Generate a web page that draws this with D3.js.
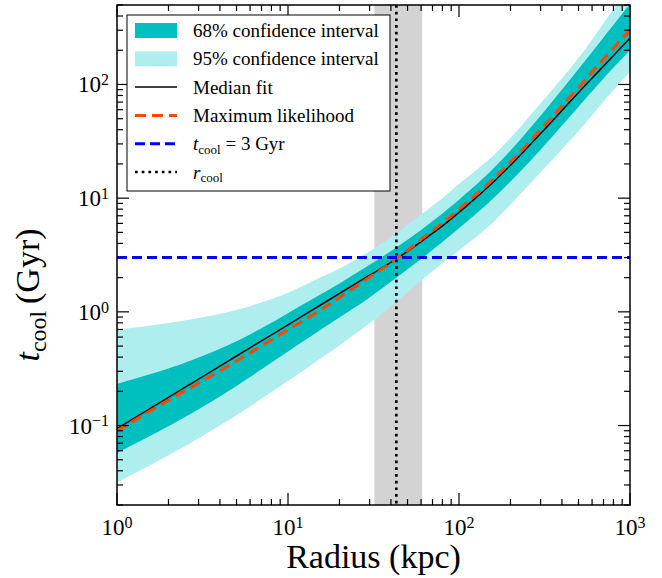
<!DOCTYPE html>
<html>
<head>
<meta charset="utf-8">
<script src="https://cdn.jsdelivr.net/npm/d3@7"></script>
<style>
  body { margin: 0; background: #fff; }
  text { font-family: "Liberation Serif", "DejaVu Serif", serif; fill: #000; }
</style>
</head>
<body>
<script>
// radius grid (kpc) and cooling time curves (Gyr)
const radius  = [1, 2, 3, 5, 7, 10, 15, 20, 30, 43, 60, 80, 100, 150, 200, 300, 500, 700, 1000];
const median  = [0.094, 0.177, 0.256, 0.409, 0.556, 0.769, 1.114, 1.45, 2.10, 2.92, 4.15, 5.7, 7.5, 12.8, 19.5, 37, 85, 145, 256];
const maxLike = [0.090, 0.167, 0.236, 0.370, 0.503, 0.695, 1.007, 1.337, 2.02, 2.92, 4.32, 6.06, 7.97, 13.6, 20.7, 40.1, 94, 167, 301];
const lo68    = [0.0574, 0.0986, 0.139, 0.223, 0.312, 0.449, 0.673, 0.892, 1.34, 1.99, 2.91, 4.11, 5.43, 9.2, 14.0, 26.7, 63.7, 113, 200];
const hi68    = [0.232, 0.317, 0.396, 0.552, 0.718, 0.973, 1.384, 1.78, 2.59, 3.68, 5.26, 7.33, 9.68, 16.7, 26.2, 53.2, 137, 259, 510];
const lo95    = [0.0315, 0.0548, 0.0774, 0.123, 0.172, 0.246, 0.376, 0.508, 0.794, 1.22, 1.89, 2.68, 3.47, 5.68, 8.81, 16.9, 39, 71, 129];
const hi95    = [0.693, 0.796, 0.881, 1.04, 1.21, 1.47, 1.96, 2.41, 3.40, 4.92, 7.18, 10.0, 13.3, 22.0, 33.9, 68.2, 171, 346, 750];

const rCool = 43, rCoolLo = 32, rCoolHi = 61;   // kpc
const tLimit = 3;                                // Gyr
const xMajor = [0, 1, 2, 3];                     // exponents of 10
const yMajor = [-1, 0, 1, 2];

const width = 662, height = 578;
const margin = {top: 5, right: 32, bottom: 73, left: 117};

const x = d3.scaleLog().domain([1, 1000]).range([margin.left, width - margin.right]);
const y = d3.scaleLog().domain([0.02, 500]).range([height - margin.bottom, margin.top]);

const svg = d3.select('body').append('svg')
  .attr('width', width)
  .attr('height', height);

svg.append('clipPath').attr('id', 'clip')
  .append('rect')
  .attr('x', margin.left).attr('y', margin.top)
  .attr('width', x.range()[1] - margin.left)
  .attr('height', y.range()[0] - margin.top);

const plot = svg.append('g').attr('clip-path', 'url(#clip)');

const pts = radius.map((r, i) => ({r, med: median[i], ml: maxLike[i],
  lo68: lo68[i], hi68: hi68[i], lo95: lo95[i], hi95: hi95[i]}));

// r_cool uncertainty span
plot.append('rect')
  .attr('x', x(rCoolLo)).attr('y', margin.top)
  .attr('width', x(rCoolHi) - x(rCoolLo))
  .attr('height', y.range()[0] - margin.top)
  .attr('fill', '#d3d3d3');

const band = (lo, hi) => d3.area()
  .x(d => x(d.r)).y0(d => y(d[lo])).y1(d => y(d[hi]))
  .curve(d3.curveCatmullRom);

plot.append('path').datum(pts).attr('d', band('lo95', 'hi95')).attr('fill', '#afeeee');
plot.append('path').datum(pts).attr('d', band('lo68', 'hi68')).attr('fill', '#00bfbf');

const line = key => d3.line().x(d => x(d.r)).y(d => y(d[key])).curve(d3.curveCatmullRom);

plot.append('path').datum(pts).attr('d', line('med'))
  .attr('fill', 'none').attr('stroke', '#000').attr('stroke-width', 1.5);
plot.append('path').datum(pts).attr('d', line('ml'))
  .attr('fill', 'none').attr('stroke', '#ff4500').attr('stroke-width', 3)
  .attr('stroke-dasharray', '11,6');

plot.append('line')
  .attr('x1', margin.left).attr('x2', x.range()[1])
  .attr('y1', y(tLimit)).attr('y2', y(tLimit))
  .attr('stroke', '#0000ff').attr('stroke-width', 3).attr('stroke-dasharray', '10,5');

plot.append('line')
  .attr('x1', x(rCool)).attr('x2', x(rCool))
  .attr('y1', margin.top).attr('y2', y.range()[0])
  .attr('stroke', '#000').attr('stroke-width', 2.7).attr('stroke-dasharray', '2.7,4');

// frame and ticks (inward, all four sides)
const x0 = margin.left, x1 = x.range()[1], y0 = y.range()[0], y1 = margin.top;
const ticks = svg.append('g').attr('stroke', '#000').attr('stroke-width', 1.2);

const xMinor = [], yMinor = [];
xMajor.slice(0, -1).forEach(e => { for (let k = 2; k < 10; k++) xMinor.push(k * Math.pow(10, e)); });
for (let e = -2; e <= 2; e++) for (let k = 1; k < 10; k++) {
  const v = k * Math.pow(10, e);
  if (k > 1 && v >= 0.02 && v <= 500) yMinor.push(v);
}

xMajor.forEach(e => {
  const px = x(Math.pow(10, e));
  ticks.append('line').attr('x1', px).attr('x2', px).attr('y1', y0).attr('y2', y0 - 12);
  ticks.append('line').attr('x1', px).attr('x2', px).attr('y1', y1).attr('y2', y1 + 12);
});
xMinor.forEach(v => {
  const px = x(v);
  ticks.append('line').attr('x1', px).attr('x2', px).attr('y1', y0).attr('y2', y0 - 6);
  ticks.append('line').attr('x1', px).attr('x2', px).attr('y1', y1).attr('y2', y1 + 6);
});
yMajor.forEach(e => {
  const py = y(Math.pow(10, e));
  ticks.append('line').attr('x1', x0).attr('x2', x0 + 12).attr('y1', py).attr('y2', py);
  ticks.append('line').attr('x1', x1).attr('x2', x1 - 12).attr('y1', py).attr('y2', py);
});
yMinor.forEach(v => {
  const py = y(v);
  ticks.append('line').attr('x1', x0).attr('x2', x0 + 6).attr('y1', py).attr('y2', py);
  ticks.append('line').attr('x1', x1).attr('x2', x1 - 6).attr('y1', py).attr('y2', py);
});

svg.append('rect')
  .attr('x', x0).attr('y', y1).attr('width', x1 - x0).attr('height', y0 - y1)
  .attr('fill', 'none').attr('stroke', '#000').attr('stroke-width', 1.5);

const powLabel = (sel, e) => {
  sel.append('tspan').text('10');
  sel.append('tspan').attr('dy', '-0.45em').attr('font-size', '16px')
    .text(e < 0 ? '\u2212' + (-e) : e);
};

xMajor.forEach(e => {
  const t = svg.append('text')
    .attr('x', x(Math.pow(10, e))).attr('y', 535)
    .attr('text-anchor', 'middle').attr('font-size', '23px');
  powLabel(t, e);
});
yMajor.forEach(e => {
  const t = svg.append('text')
    .attr('x', 109).attr('y', y(Math.pow(10, e)) + 8)
    .attr('text-anchor', 'end').attr('font-size', '23px');
  powLabel(t, e);
});

svg.append('text')
  .attr('x', (x0 + x1) / 2).attr('y', 568)
  .attr('text-anchor', 'middle').attr('font-size', '34px')
  .text('Radius (kpc)');

const yl = svg.append('text')
  .attr('transform', 'translate(39,295) rotate(-90)')
  .attr('text-anchor', 'middle').attr('font-size', '34px');
yl.append('tspan').attr('font-style', 'italic').text('t');
yl.append('tspan').attr('dy', '0.3em').attr('font-size', '24px').text('cool');
yl.append('tspan').attr('dy', '-0.21em').text('\u2009(Gyr)');

// legend
const leg = svg.append('g');
leg.append('rect')
  .attr('x', 127).attr('y', 15).attr('width', 263).attr('height', 176)
  .attr('fill', '#fff').attr('stroke', '#000').attr('stroke-width', 1);

const rows = [
  {type: 'patch', color: '#00bfbf', label: '68% confidence interval'},
  {type: 'patch', color: '#afeeee', label: '95% confidence interval'},
  {type: 'line', color: '#000', width: 1.5, dash: null, label: 'Median fit'},
  {type: 'line', color: '#ff4500', width: 3, dash: '11,6', label: 'Maximum likelihood'},
  {type: 'line', color: '#0000ff', width: 3, dash: '10,5', label: 'tlim'},
  {type: 'line', color: '#000', width: 2.7, dash: '2.7,4', label: 'rcool'}
];

rows.forEach((d, i) => {
  const cy = 30.5 + i * 28.3;
  if (d.type === 'patch') {
    leg.append('rect').attr('x', 135).attr('y', cy - 7.5).attr('width', 42).attr('height', 15)
      .attr('fill', d.color);
  } else {
    leg.append('line').attr('x1', 135).attr('x2', 177).attr('y1', cy).attr('y2', cy)
      .attr('stroke', d.color).attr('stroke-width', d.width)
      .attr('stroke-dasharray', d.dash);
  }
  const t = leg.append('text').attr('x', 193).attr('y', cy + 6.5).attr('font-size', '19px');
  if (d.label === 'tlim') {
    t.append('tspan').attr('font-style', 'italic').text('t');
    t.append('tspan').attr('dy', '0.3em').attr('font-size', '13px').text('cool');
    t.append('tspan').attr('dy', '-0.21em').text(' = 3 Gyr');
  } else if (d.label === 'rcool') {
    t.append('tspan').attr('font-style', 'italic').text('r');
    t.append('tspan').attr('dy', '0.3em').attr('font-size', '13px').text('cool');
  } else {
    t.text(d.label);
  }
});
</script>
</body>
</html>
